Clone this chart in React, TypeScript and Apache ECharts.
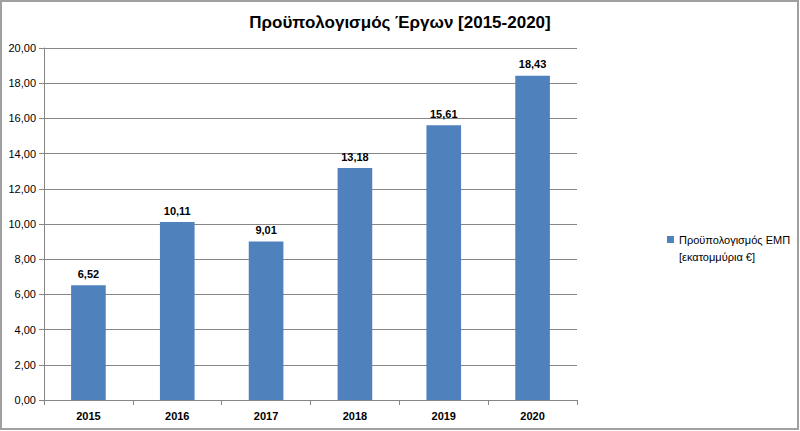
import React, { useEffect, useRef } from "react";
import * as echarts from "echarts";

const years = ["2015", "2016", "2017", "2018", "2019", "2020"];
const budget = [6.52, 10.11, 9.01, 13.18, 15.61, 18.43];
const seriesName = "Προϋπολογισμός ΕΜΠ [εκατομμύρια €]";
const legendLine1 = "Προϋπολογισμός ΕΜΠ";
const legendLine2 = "[εκατομμύρια €]";
const titleText = "Προϋπολογισμός Έργων [2015-2020]";

const fmt = (v: number) => v.toFixed(2).replace(".", ",");
const FONT = "Liberation Sans, Arial, sans-serif";

export default function App() {
  const ref = useRef<HTMLDivElement>(null);
  useEffect(() => {
    document.body.style.margin = "0";
    const chart = echarts.init(ref.current!, null, { renderer: "svg" });
    const t = { fontSize: 11, lineHeight: 17, color: "#000", fontFamily: FONT };
    chart.setOption({
      animation: false,
      backgroundColor: "#ffffff",
      textStyle: { fontFamily: FONT },
      title: {
        text: titleText,
        left: "center",
        top: 9,
        textStyle: { fontSize: 17, fontWeight: "bold", color: "#000", fontFamily: FONT },
      },
      graphic: [
        {
          type: "rect",
          shape: { x: 1, y: 1, width: 797, height: 428 },
          style: { fill: "none", stroke: "#a0a0a0", lineWidth: 2 },
          silent: true,
        },
      ],
      legend: {
        orient: "vertical",
        left: 662,
        top: 209,
        itemWidth: 7,
        itemHeight: 7,
        itemGap: 0,
        icon: "rect",
        data: [seriesName],
        formatter: () => `{s| }\n{t|${legendLine1}}\n{t|${legendLine2}}`,
        textStyle: {
          ...t,
          rich: { s: { ...t }, t: { ...t } },
        },
      },
      grid: { left: 44, right: 223, top: 48, bottom: 31, containLabel: false },
      xAxis: {
        type: "category",
        data: years,
        axisLine: { lineStyle: { color: "#868686" } },
        axisTick: { show: true, alignWithLabel: false, length: 5, lineStyle: { color: "#868686" } },
        axisLabel: { fontSize: 11, fontWeight: "bold", color: "#000", margin: 10 },
      },
      yAxis: {
        type: "value",
        min: 0,
        max: 20,
        interval: 2,
        axisLine: { show: true, lineStyle: { color: "#868686" } },
        axisTick: { show: true, length: 5, lineStyle: { color: "#868686" } },
        axisLabel: { fontSize: 11, color: "#000", margin: 8, formatter: (v: number) => fmt(v) },
        splitLine: { lineStyle: { color: "#868686" } },
      },
      series: [
        {
          name: seriesName,
          type: "bar",
          data: budget,
          barWidth: "39%",
          itemStyle: { color: "#4f81bd" },
          label: {
            show: true,
            position: "top",
            distance: 6,
            fontSize: 11,
            fontWeight: "bold",
            color: "#000",
            formatter: (p: any) => fmt(p.value),
          },
        },
      ],
    });
    return () => chart.dispose();
  }, []);
  return <div ref={ref} style={{ width: 800, height: 431 }} />;
}
